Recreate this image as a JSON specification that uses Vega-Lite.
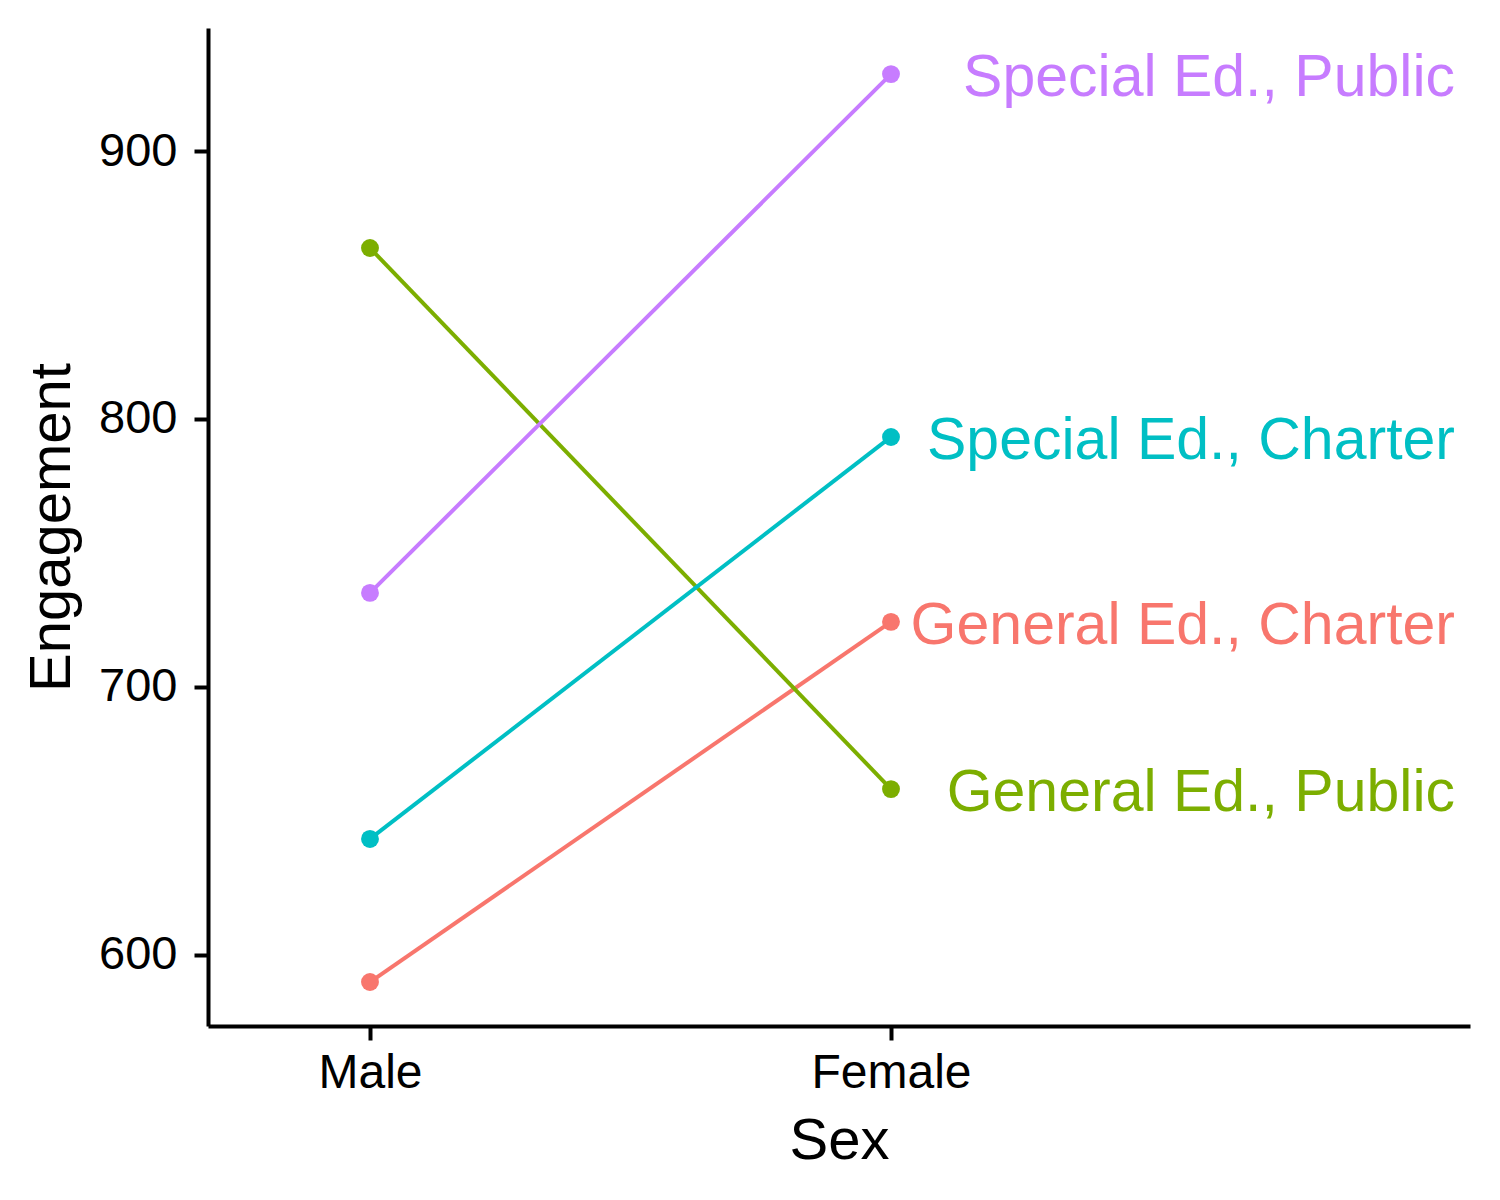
{
  "$schema": "https://vega.github.io/schema/vega-lite/v6.json",
  "width": 1262,
  "height": 998,
  "autosize": "none",
  "padding": {"left": 208, "top": 28, "right": 30, "bottom": 174},
  "background": "white",
  "config": {
    "view": {"stroke": null},
    "font": "Liberation Sans",
    "axis": {
      "grid": false,
      "domainColor": "black",
      "domainWidth": 4,
      "tickColor": "black",
      "tickWidth": 4,
      "tickSize": 14,
      "labelColor": "black",
      "labelFont": "Liberation Sans",
      "labelFontSize": 47,
      "titleFont": "Liberation Sans",
      "titleFontSize": 58,
      "titleFontWeight": "normal",
      "titleColor": "black"
    }
  },
  "data": {
    "values": [
      {"sex": "Male", "group": "General Ed., Charter", "engagement": 589.9},
      {"sex": "Female", "group": "General Ed., Charter", "engagement": 724.3},
      {"sex": "Male", "group": "General Ed., Public", "engagement": 863.8},
      {"sex": "Female", "group": "General Ed., Public", "engagement": 661.9},
      {"sex": "Male", "group": "Special Ed., Charter", "engagement": 643.3},
      {"sex": "Female", "group": "Special Ed., Charter", "engagement": 793.3},
      {"sex": "Male", "group": "Special Ed., Public", "engagement": 735.1},
      {"sex": "Female", "group": "Special Ed., Public", "engagement": 928.7}
    ]
  },
  "encoding": {
    "x": {
      "field": "sex",
      "type": "nominal",
      "sort": ["Male", "Female"],
      "scale": {"type": "point", "domain": ["Male", "Female"], "padding": 0.7111, "align": 0.2186},
      "axis": {"title": "Sex", "labelAngle": 0, "labelPadding": 9, "titlePadding": 15, "labelFontSize": 48}
    },
    "y": {
      "field": "engagement",
      "type": "quantitative",
      "scale": {"domain": [573.5, 945.9], "nice": false, "zero": false},
      "axis": {"title": "Engagement", "values": [600, 700, 800, 900], "labelPadding": 17, "titlePadding": 17}
    },
    "color": {
      "field": "group",
      "type": "nominal",
      "scale": {
        "domain": ["General Ed., Charter", "General Ed., Public", "Special Ed., Charter", "Special Ed., Public"],
        "range": ["#F8766D", "#7CAE00", "#00BFC4", "#C77CFF"]
      },
      "legend": null
    }
  },
  "layer": [
    {"mark": {"type": "line", "strokeWidth": 4}, "encoding": {"detail": {"field": "group"}}},
    {"mark": {"type": "point", "filled": true, "opacity": 1, "size": 320}},
    {
      "transform": [{"filter": "datum.sex === 'Female'"}],
      "mark": {"type": "text", "align": "right", "baseline": "middle", "dx": 564, "dy": 4, "fontSize": 59, "font": "Liberation Sans"},
      "encoding": {"text": {"field": "group"}}
    }
  ]
}
